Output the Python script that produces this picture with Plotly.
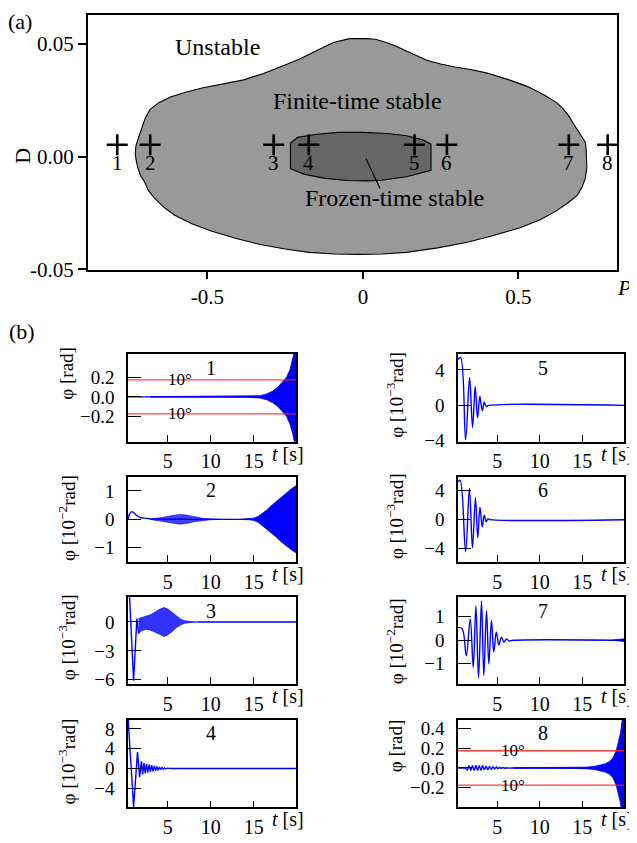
import plotly.graph_objects as go

PAGE_W, PAGE_H = 637, 843
OFF = 8  # page body margin
W, H = PAGE_W - OFF, PAGE_H - OFF
FONT = "Liberation Serif, Times New Roman, serif"
BLUE = "#0000ff"
RED = "rgba(255,30,30,0.85)"

# ---------------- panel (a) data ----------------
outer_P = [-0.043, -0.095, -0.148, -0.2, -0.252, -0.32, -0.383, -0.45, -0.514, -0.57, -0.617,
           -0.655, -0.685, -0.70, -0.71, -0.72, -0.73, -0.732, -0.728, -0.723, -0.715, -0.703,
           -0.69, -0.67, -0.64, -0.605, -0.55, -0.488, -0.41, -0.331, -0.25, -0.174, -0.09,
           -0.016, 0.06, 0.14, 0.24, 0.336, 0.42, 0.505, 0.57, 0.623, 0.66, 0.689, 0.705, 0.715,
           0.72, 0.72, 0.718, 0.715, 0.70, 0.689, 0.675, 0.663, 0.645, 0.623, 0.58, 0.53, 0.47,
           0.40, 0.35, 0.296, 0.25, 0.205, 0.17, 0.14, 0.105, 0.075, 0.04, 0.01, -0.043]
outer_D = [0.0523, 0.0506, 0.047, 0.0435, 0.0405, 0.0368, 0.034, 0.0322, 0.0305, 0.0285, 0.0265,
           0.024, 0.0208, 0.017, 0.0134, 0.009, 0.0047, 0.001, -0.0025, -0.0054, -0.0085, -0.011,
           -0.015, -0.0185, -0.0225, -0.026, -0.0298, -0.033, -0.0362, -0.039, -0.041, -0.0425, -0.0432,
           -0.0434, -0.0432, -0.0425, -0.0405, -0.038, -0.035, -0.0316, -0.028, -0.024, -0.0205, -0.0172,
           -0.0135, -0.0097, -0.005, -0.001, 0.003, 0.0064, 0.0095, 0.012, 0.015, 0.0178, 0.021, 0.0239,
           0.0275, 0.031, 0.034, 0.037, 0.0385, 0.0397, 0.041, 0.0427, 0.045, 0.047, 0.049, 0.0506,
           0.052, 0.0523, 0.0523]
inner_P = [-0.233, -0.21, -0.148, -0.08, 0.0, 0.08, 0.14, 0.19, 0.219, 0.219, 0.14, 0.06, 0.01,
           -0.05, -0.121, -0.19, -0.233, -0.233]
inner_D = [0.006, 0.0085, 0.0099, 0.0107, 0.0107, 0.0102, 0.0092, 0.0075, 0.0055, -0.0061, -0.009,
           -0.0105, -0.0108, -0.0106, -0.0097, -0.0078, -0.0054, 0.006]
point_P = [-0.79, -0.684, -0.287, -0.174, 0.166, 0.27, 0.662, 0.787]
point_D = [0.0052, 0.0052, 0.0052, 0.0052, 0.0052, 0.0052, 0.0052, 0.0052]
point_label_D = -0.0028
point_labels = ["1", "2", "3", "4", "5", "6", "7", "8"]
region_labels = ["Unstable", "Finite-time stable", "Frozen-time stable"]
region_P = [-0.468, -0.017, 0.102]
region_D = [0.0485, 0.0245, -0.0185]
pointer_P = [0.01, 0.055]
pointer_D = [-0.001, -0.0142]

# ---------------- panel (b) data ----------------
limit_10deg = 0.1745  # rad

# panel 1 [rad]
p1_env_t = [3, 6, 9, 12, 14, 15, 15.7, 16.5, 17.2, 17.8, 18.2, 18.8, 19.2, 19.5, 19.7, 20]
p1_env = [0.002, 0.004, 0.004, 0.003, 0.004, 0.006, 0.012, 0.03, 0.06, 0.1, 0.14, 0.2, 0.28, 0.37, 0.46, 0.6]

# panel 2 [1e-2 rad]
p2_t = [0.4, 0.6, 0.85, 1.1, 1.4, 1.75, 2.3, 2.9, 3.5, 20]
p2_v = [0.0, 0.2, 0.27, 0.22, 0.14, 0.07, 0.04, 0.02, 0.01, 0.0]
p2_pk_t = [3.0, 3.7, 4.5, 5.5, 6.4, 7.2, 8.0, 9.0, 10.0, 11.0]
p2_pk = [0.005, 0.03, 0.07, 0.13, 0.17, 0.15, 0.09, 0.04, 0.015, 0.004]
p2_gr_t = [13.5, 14.5, 15.0, 15.5, 16.0, 16.5, 17.0, 17.6, 18.2, 18.8, 19.4, 20.0]
p2_gr = [0.003, 0.015, 0.04, 0.1, 0.2, 0.33, 0.47, 0.62, 0.8, 0.95, 1.08, 1.2]

# panel 3 [1e-3 rad]
p3_t = [0.45, 1.05, 1.43, 1.63]
p3_v = [5.0, -6.1, 0.35, -1.2]
p3_tail_t = [8.5, 20]
p3_tail_v = [0.0, 0.0]
p3_pk_t = [1.63, 2.0, 2.5, 3.0, 3.5, 4.0, 4.6, 5.0, 5.5, 6.0, 6.5, 7.0, 7.5, 8.0, 8.5]
p3_up = [0.35, 0.45, 0.55, 0.75, 1.0, 1.3, 1.5, 1.35, 1.0, 0.6, 0.3, 0.12, 0.05, 0.02, 0.0]
p3_lo = [-1.2, -0.9, -0.75, -0.85, -1.05, -1.3, -1.5, -1.35, -1.0, -0.6, -0.3, -0.12, -0.05, -0.02, 0.0]

# panel 4 [1e-3 rad]
p4_t = [0.4, 1.05, 1.5, 1.75, 1.95, 2.1, 2.25, 2.4, 2.55, 2.7, 2.85, 3.0, 3.15, 3.3, 3.45, 3.6,
        3.75, 3.9, 4.05, 4.2, 4.35, 4.5, 4.65, 4.8, 4.95, 5.1, 5.25, 5.4, 20]
p4_v = [10.5, -7.8, 3.3, -1.8, 1.45, -1.2, 1.15, -1.0, 0.95, -0.85, 0.8, -0.7, 0.65, -0.58, 0.52,
        -0.46, 0.4, -0.35, 0.3, -0.25, 0.2, -0.16, 0.12, -0.09, 0.06, -0.04, 0.02, 0.0, 0.0]

# panel 5 [1e-3 rad]
p5_t = [0.4, 0.71, 1.29, 1.76, 2.11, 2.42, 2.7, 2.97, 3.25, 3.48, 3.71, 4.0, 20]
p5_v = [5.2, 5.4, -3.9, 3.15, -2.5, 2.1, -1.4, 1.0, -0.6, 0.35, -0.12, 0.0, 0.0]

# panel 6 [1e-3 rad]
p6_t = [0.4, 0.65, 1.29, 1.74, 2.1, 2.45, 2.72, 2.98, 3.25, 3.48, 3.71, 3.92, 4.15, 20]
p6_v = [5.2, 5.4, -4.4, 4.3, -3.85, 3.0, -2.5, 1.7, -1.0, 0.6, -0.25, 0.1, 0.0, 0.0]

# panel 7 [1e-2 rad]
p7_t = [0.4, 0.9, 1.37, 1.84, 2.19, 2.5, 2.81, 3.16, 3.43, 3.75, 4.02, 4.33, 4.6, 4.9, 5.2,
        5.5, 5.8, 6.1, 6.4, 6.9, 20]
p7_v = [0.54, 0.48, -0.66, 0.89, -1.15, 1.45, -1.6, 1.66, -1.5, 1.25, -1.0, 0.83, -0.5, 0.35,
        -0.2, 0.13, -0.08, 0.05, -0.03, 0.0, 0.0]
p7_end_t = [18.5, 19.3, 20.0]
p7_end = [0.0, 0.03, 0.06]

# panel 8 [rad]
p8_t = [0.4, 1.3, 1.5, 1.7, 1.9, 2.1, 2.3, 2.5, 2.7, 2.9, 3.1, 3.3, 3.5, 3.7, 3.9, 4.1, 4.3,
        4.5, 4.7, 4.9, 5.1, 5.3, 5.5, 5.7, 5.9, 6.1, 6.3, 6.5, 6.8, 20]
p8_v = [0.0, 0.0, -0.02, 0.022, -0.025, 0.025, -0.027, 0.027, -0.027, 0.026, -0.025, 0.024,
        -0.022, 0.02, -0.018, 0.016, -0.014, 0.012, -0.01, 0.009, -0.007, 0.006, -0.005, 0.004,
        -0.003, 0.002, -0.002, 0.001, 0.0, 0.0]
p8_gr_t = [7.0, 12.0, 14.0, 15.5, 16.5, 17.2, 17.7, 18.2, 18.6, 19.0, 19.3, 19.5, 19.7, 20.0]
p8_gr = [0.002, 0.003, 0.004, 0.008, 0.018, 0.03, 0.042, 0.065, 0.1, 0.18, 0.28, 0.36, 0.5, 0.6]

panel_yrange = [[-0.46, 0.44], [-1.5, 1.5], [-6.45, 2.6], [-7.9, 9.9],
                [-4.1, 5.8], [-5.8, 5.9], [-1.86, 1.83], [-0.40, 0.49]]
panel_yticks = [[-0.2, 0.0, 0.2], [-1, 0, 1], [-6, -3, 0], [-4, 0, 4, 8],
                [-4, 0, 4], [-4, 0, 4], [-1, 0, 1], [-0.2, 0.0, 0.2, 0.4]]
panel_yticktext = [["−0.2", "0.0", "0.2"], ["−1", "0", "1"], ["−6", "−3", "0"], ["−4", "0", "4", "8"],
                   ["−4", "0", "4"], ["−4", "0", "4"], ["−1", "0", "1"], ["−0.2", "0.0", "0.2", "0.4"]]
panel_ytitle = ["φ [rad]", "φ [10<sup>−2</sup>rad]", "φ [10<sup>−3</sup>rad]", "φ [10<sup>−3</sup>rad]",
                "φ [10<sup>−3</sup>rad]", "φ [10<sup>−3</sup>rad]", "φ [10<sup>−2</sup>rad]", "φ [rad]"]
t_ticks = [5, 10, 15]
t_range = [0.4, 19.9]


def xp(px):
    return (px - OFF) / W


def yp(py):
    return 1 - (py - OFF) / H


def note(x, y, text, size, xref="paper", yref="paper", **kw):
    d = dict(x=x, y=y, xref=xref, yref=yref, text=text, showarrow=False,
             xanchor="center", yanchor="middle", font=dict(size=size))
    d.update(kw)
    return d


fig = go.Figure()

# ---------- panel (a) ----------
fig.add_trace(go.Scatter(x=outer_P, y=outer_D, mode="lines", fill="toself", fillcolor="#999999",
                         line=dict(color="black", width=1.1), xaxis="x", yaxis="y"))
fig.add_trace(go.Scatter(x=inner_P, y=inner_D, mode="lines", fill="toself", fillcolor="#666666",
                         line=dict(color="black", width=1.1), xaxis="x", yaxis="y"))
fig.add_trace(go.Scatter(x=pointer_P, y=pointer_D, mode="lines",
                         line=dict(color="black", width=1.1), xaxis="x", yaxis="y"))
fig.add_trace(go.Scatter(x=point_P, y=point_D, mode="markers",
                         marker=dict(symbol="cross-thin", size=15, color="black",
                                     line=dict(color="black", width=2.6)),
                         xaxis="x", yaxis="y"))

annotations = []
for p, lab in zip(point_P, point_labels):
    annotations.append(note(p, point_label_D, lab, 21, xref="x", yref="y"))
for p, d, lab in zip(region_P, region_D, region_labels):
    annotations.append(note(p, d, lab, 24, xref="x", yref="y"))

layout = dict(
    width=W, height=H, margin=dict(l=0, r=0, t=0, b=0),
    paper_bgcolor="white", plot_bgcolor="white", showlegend=False,
    font=dict(family=FONT, size=20, color="black"),
    xaxis=dict(domain=[xp(88), xp(617)], range=[-0.884, 0.817], anchor="y",
               tickvals=[-0.5, 0, 0.5], ticktext=["-0.5", "0", "0.5"], tickfont=dict(size=21),
               ticks="outside", ticklen=7, tickwidth=1.5, tickcolor="black",
               showline=True, mirror=True, linecolor="black", linewidth=2,
               showgrid=False, zeroline=False),
    yaxis=dict(domain=[yp(273), yp(14)], range=[-0.0504, 0.0628], anchor="x",
               tickvals=[-0.05, 0, 0.05], ticktext=["-0.05", "0.00", "0.05"], tickfont=dict(size=21),
               ticks="outside", ticklen=8, tickwidth=1.5, tickcolor="black",
               showline=True, mirror=True, linecolor="black", linewidth=2,
               showgrid=False, zeroline=False),
)

annotations += [
    note(xp(20), yp(21), "(a)", 22),
    note(xp(22), yp(335), "(b)", 22),
    note(xp(624), yp(291), "<i>P</i>", 22),
    note(xp(23), yp(157), "D", 22, textangle=-90),
]

# ---------- panel (b) ----------
cols = [(128, 296), (458, 624)]
rows = [(358, 447), (482.5, 569), (604.5, 693), (729, 818)]
title_x = [67, 395]
title_y = [378, 524.5, 645.5, 771.5, 399.5, 522.5, 649.5, 756]
number_t = [10, 10, 10, 10, 10.4, 10.4, 10.4, 10.4]


def ax(k):
    return "x%d" % (k + 1), "y%d" % (k + 1)


def line(k, t, v, width=1.4, shape="linear", color=BLUE):
    xa, ya = ax(k)
    fig.add_trace(go.Scatter(x=t, y=v, mode="lines", line=dict(color=color, width=width, shape=shape),
                             xaxis=xa, yaxis=ya))


def band(k, t, up, lo, alpha=1.0):
    xa, ya = ax(k)
    xs = list(t) + list(t)[::-1]
    ys = list(up) + list(lo)[::-1]
    fig.add_trace(go.Scatter(x=xs, y=ys, mode="lines", fill="toself",
                             fillcolor="rgba(0,0,255,%g)" % alpha,
                             line=dict(color="rgba(0,0,255,%g)" % alpha, width=0.8),
                             xaxis=xa, yaxis=ya))


def neg(arr):
    return [-a for a in arr]


# panel 1
line(1, [t_range[0], 20], [0, 0])
band(1, p1_env_t, p1_env, neg(p1_env))
# panel 2
line(2, p2_t, p2_v, shape="spline")
band(2, p2_pk_t, p2_pk, neg(p2_pk), alpha=0.75)
band(2, p2_gr_t, p2_gr, neg(p2_gr))
# panel 3
line(3, p3_t, p3_v)
band(3, p3_pk_t, p3_up, p3_lo, alpha=0.8)
line(3, p3_tail_t, p3_tail_v)
# panel 4
line(4, p4_t, p4_v)
# panel 5
line(5, p5_t, p5_v, shape="spline")
# panel 6
line(6, p6_t, p6_v, shape="spline")
# panel 7
line(7, p7_t, p7_v, shape="spline")
band(7, p7_end_t, p7_end, neg(p7_end))
# panel 8
line(8, p8_t, p8_v)
band(8, p8_gr_t, p8_gr, neg(p8_gr))

# red 10 degree limits (panels 1 and 8)
for k in (1, 8):
    for s in (1, -1):
        line(k, [0, 20], [s * limit_10deg, s * limit_10deg], width=1.4, color=RED)
        t_lab = 6.4 if k == 1 else 6.9
        xa, ya = ax(k)
        annotations.append(note(t_lab, s * limit_10deg, "10°", 17, xref=xa, yref=ya))

for k in range(1, 9):
    c = 0 if k <= 4 else 1
    r = (k - 1) % 4
    x0, x1 = cols[c]
    top, bot = rows[r]
    xa, ya = ax(k)
    layout["xaxis%d" % (k + 1)] = dict(
        domain=[xp(x0), xp(x1)], range=t_range, anchor=ya,
        tickvals=t_ticks, ticks="inside", ticklen=7, tickwidth=1.3, tickcolor="black",
        tickfont=dict(size=20),
        showline=True, mirror=True, linecolor="black", linewidth=1.6,
        showgrid=False, zeroline=False, ticklabelstandoff=1)
    layout["yaxis%d" % (k + 1)] = dict(
        domain=[yp(bot), yp(top)], range=panel_yrange[k - 1], anchor=xa,
        tickvals=panel_yticks[k - 1], ticktext=panel_yticktext[k - 1],
        tickfont=dict(size=19),
        ticks="inside", ticklen=13, tickwidth=1.3, tickcolor="black",
        showline=True, mirror=True, linecolor="black", linewidth=1.6,
        showgrid=False, zeroline=False, ticklabelstandoff=8)
    annotations.append(note(xp(title_x[c]), yp(title_y[k - 1]), panel_ytitle[k - 1], 19,
                            textangle=-90))
    annotations.append(note(number_t[k - 1], yp(top + 14), str(k), 20, xref=xa))
    annotations.append(note(xp(288 if c == 0 else 617), yp(bot + 12), "<i>t</i> [s]", 20))

layout["annotations"] = annotations
fig.update_layout(**layout)
fig.write_html("out.html")
